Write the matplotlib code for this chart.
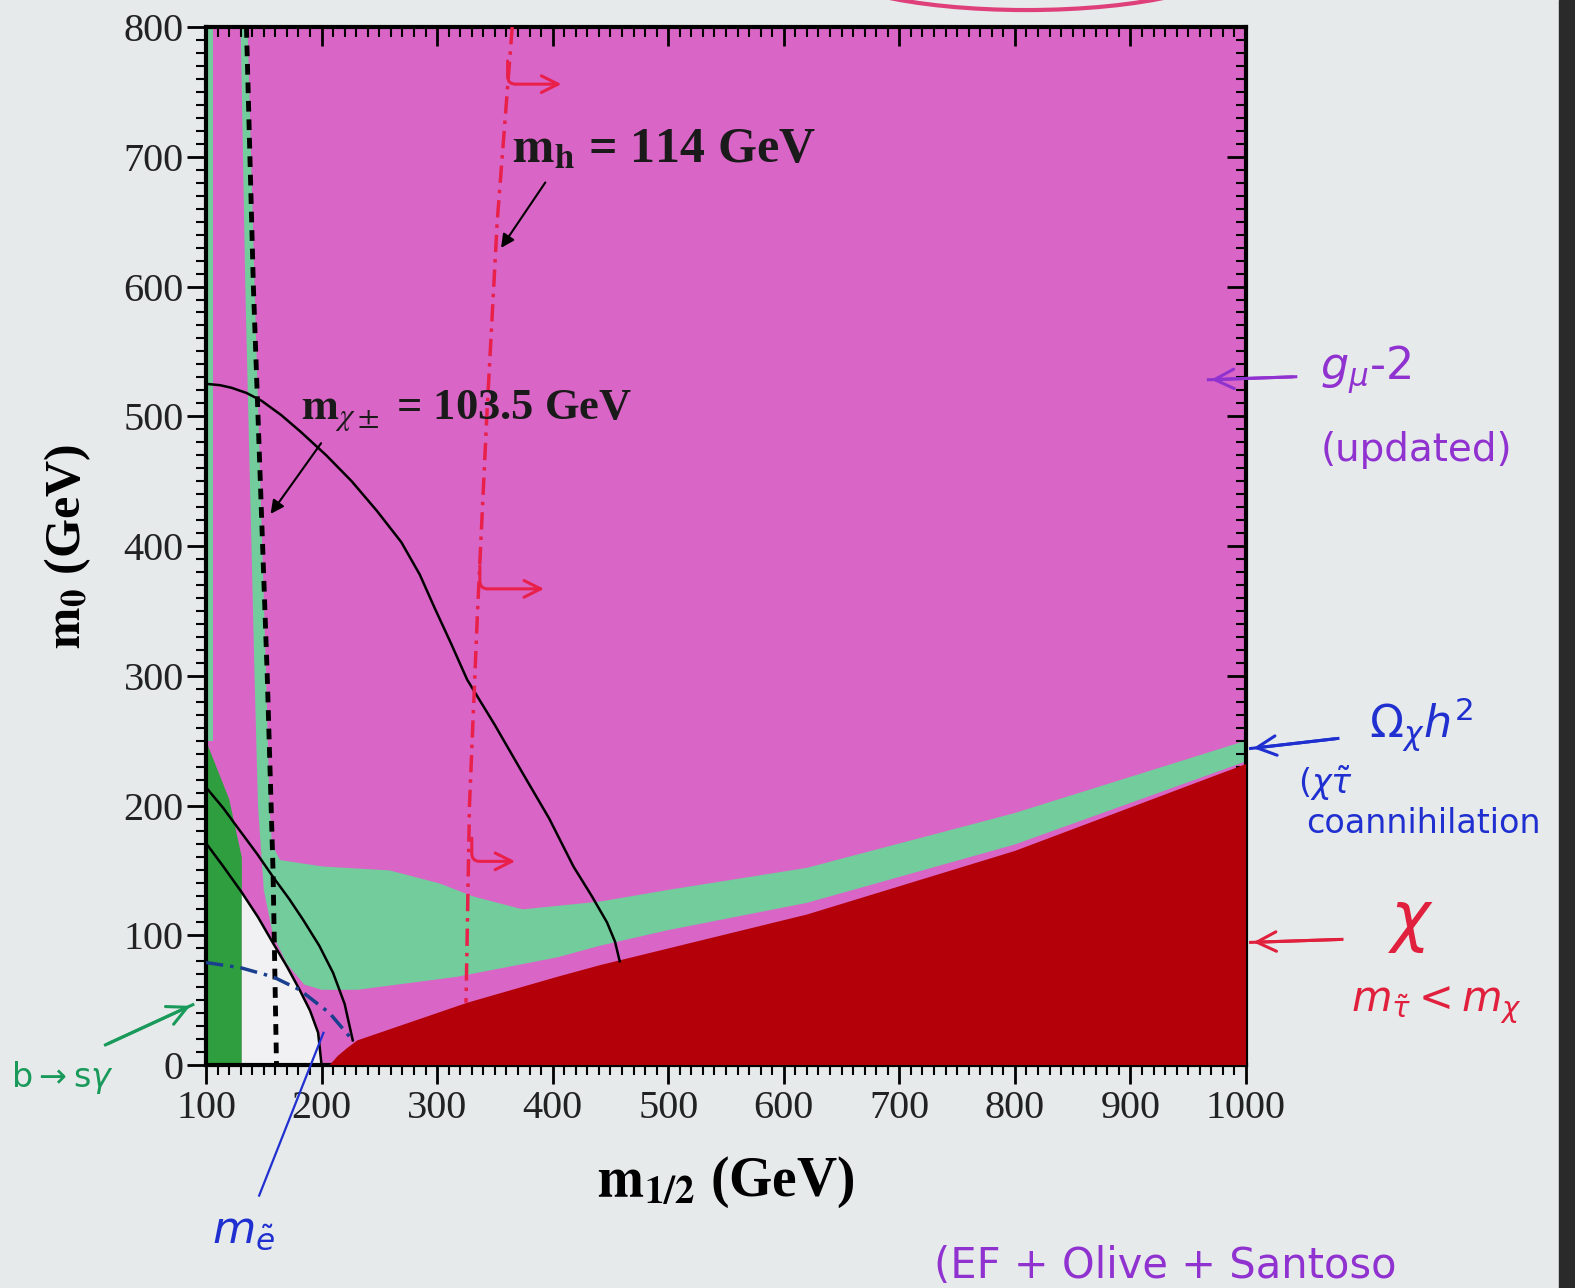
import matplotlib.pyplot as plt
from matplotlib.patches import Ellipse, Rectangle
from matplotlib.ticker import MultipleLocator

plt.rcParams['mathtext.fontset'] = 'stix'

# CMSSM (m_1/2, m_0) plane, values in GeV
# b -> s gamma excluded strip
bsg_x = [100, 131, 131, 120, 100]
bsg_y = [0, 0, 160, 205, 250]

# thin relic-density sliver along the left edge
edge_x = [100, 106, 106, 100]
edge_y = [250, 250, 800, 800]

# relic density (chi-stau coannihilation) region outline
relic_x = [130, 134, 138, 142, 145, 150, 158, 170, 185, 200, 231, 317, 404, 441, 500, 620, 800, 1000,
           1000, 799, 620, 500, 441, 374, 331, 302, 259, 201, 164, 157, 155, 152, 147, 142, 136]
relic_y = [800, 600, 450, 300, 200, 135, 100, 78, 62, 58, 58, 68, 83, 92, 104, 125, 170, 234,
           250, 194, 152, 135, 126, 120, 130, 140, 150, 153, 158, 170, 200, 300, 450, 600, 800]

# charged LSP (m_stau < m_chi)
stau_x = [207, 214, 222, 231, 326, 404, 441, 620, 800, 1000, 1000]
stau_y = [0, 7, 13, 19, 48, 68, 77, 116, 165, 232, 0]

# contours
inner_x = [100, 115, 131, 145, 158, 170, 181, 190, 197, 200]
inner_y = [171, 153, 133, 114, 94, 76, 58, 42, 25, 0]
outer_x = [100, 115, 129, 144, 158, 172, 184, 198, 210, 220, 227]
outer_y = [214, 198, 181, 163, 145, 128, 112, 92, 71, 47, 19]
big_x = [100, 112, 122, 135, 148, 165, 182, 204, 226, 248, 269, 285, 298, 312, 326,
         350, 374, 397, 418, 434, 447, 454, 458]
big_y = [525, 524, 522, 518, 512, 501, 488, 470, 450, 427, 403, 378, 352, 325, 297,
         262, 225, 190, 153, 130, 110, 95, 80]
cha_x = [135, 141, 147, 153, 158, 161]
cha_y = [800, 600, 450, 300, 150, 0]
mh_x = [365, 352, 343, 335, 328, 325]
mh_y = [800, 650, 500, 350, 200, 48]
sel_x = [100, 130, 158, 181, 207, 227]
sel_y = [79, 75, 68, 58, 40, 19]

# arrows off the m_h contour (allowed side)
hook_y = [764, 375, 165]
hook_x0 = [361, 337, 330]
hook_x1 = [410, 395, 370]

x_ticks = list(range(100, 1001, 100))
y_ticks = list(range(0, 801, 100))

magenta = '#d966c6'
teal = '#72cc9c'
dkgreen = '#2e9e3e'
dkred = '#b40008'

fig = plt.figure(figsize=(15.75, 12.88), dpi=100)
fig.patch.set_facecolor('#e6eaeb')
ax = fig.add_axes([0.1308, 0.1731, 0.6603, 0.8059])
ax.set_facecolor(magenta)

ax.fill(relic_x, relic_y, color=teal, lw=0, zorder=1)
ax.fill(edge_x, edge_y, color=teal, lw=0, zorder=1)
ax.fill(bsg_x, bsg_y, color=dkgreen, lw=0, zorder=2)
white_x = [131] + [x for x in inner_x if x >= 131]
white_y = [0] + [y for x, y in zip(inner_x, inner_y) if x >= 131]
ax.fill(white_x, white_y, color='#f1f1f3', lw=0, zorder=2)
ax.fill(stau_x, stau_y, color=dkred, lw=0, zorder=3)

ax.plot(inner_x, inner_y, color='black', lw=1.8, zorder=4)
ax.plot(outer_x, outer_y, color='black', lw=1.8, zorder=4)
ax.plot(big_x, big_y, color='black', lw=1.8, zorder=4)
ax.plot(cha_x, cha_y, color='black', lw=3.5, ls=(0, (2.2, 1.6)), zorder=5)
ax.plot(mh_x, mh_y, color='#e8204a', lw=2.5, ls=(0, (5, 2, 1, 2)), zorder=5)
ax.plot(sel_x, sel_y, color='#1a3f8f', lw=2.5, ls=(0, (5, 2, 1, 2)), zorder=5)

for y, x0, x1 in zip(hook_y, hook_x0, hook_x1):
    ax.annotate('', xy=(x1, y - 8), xytext=(x0, y + 12),
                arrowprops=dict(arrowstyle='->', color='#e8204a', lw=2.2,
                                mutation_scale=30, connectionstyle='angle,angleA=-90,angleB=0,rad=8'),
                zorder=6)

serif = 'Liberation Serif'

ax.text(365, 696, r'$\mathbf{m_h}$ = 114 GeV', fontsize=36, fontweight='bold',
        family=serif, color='#1a1a1a', va='baseline', zorder=7)
ax.annotate('', xy=(354, 628), xytext=(395, 682),
            arrowprops=dict(arrowstyle='-|>', color='black', lw=1.5, mutation_scale=20), zorder=7)
ax.text(182, 498, r'$\mathbf{m}_{\chi\pm}$ = 103.5 GeV', fontsize=32, fontweight='bold',
        family=serif, color='#1a1a1a', va='baseline', zorder=7)
ax.annotate('', xy=(154.5, 423), xytext=(201, 481),
            arrowprops=dict(arrowstyle='-|>', color='black', lw=1.5, mutation_scale=20), zorder=7)

ax.set_xlim(100, 1000)
ax.set_ylim(0, 800)
ax.set_xticks(x_ticks)
ax.set_yticks(y_ticks)
ax.xaxis.set_minor_locator(MultipleLocator(10))
ax.yaxis.set_minor_locator(MultipleLocator(10))
ax.tick_params(which='both', top=True, right=True)
ax.tick_params(axis='x', which='major', direction='out', length=14, width=2, pad=4, labelsize=29)
ax.tick_params(axis='y', which='major', direction='out', length=14, width=2, pad=2, labelsize=29)
ax.tick_params(which='minor', direction='out', length=7, width=1.5)
for lab in ax.get_xticklabels() + ax.get_yticklabels():
    lab.set_family(serif)
    lab.set_color('#222222')
for side in ['top', 'right', 'bottom', 'left']:
    ax.spines[side].set_linewidth(3)
# top/right ticks point inward (same downward/leftward direction as the others)
for t in ax.xaxis.get_major_ticks() + ax.xaxis.get_minor_ticks():
    t.tick2line.set_marker(3)
for t in ax.yaxis.get_major_ticks() + ax.yaxis.get_minor_ticks():
    t.tick2line.set_marker(0)

ax.set_xlabel(r'$\mathbf{m_{1/2}}$ (GeV)', fontsize=40, fontweight='bold', family=serif, labelpad=20)
ax.set_ylabel(r'$\mathbf{m_0}$ (GeV)', fontsize=36, fontweight='bold', family=serif, labelpad=22)


def fx(px):
    return px / 1568


def fy(py):
    return 1 - py / 1282


hand = 'DejaVu Sans'
purple = '#9032d0'
blue = '#2030d0'
red = '#e0203c'
green = '#1a9a5a'

fig.text(fx(1360), fy(368), r'$g_\mu$-2', fontsize=32, color=purple, family=hand,
         ha='center', va='center', math_fontfamily='dejavusans')
fig.text(fx(1410), fy(448), '(updated)', fontsize=28, color=purple, family=hand,
         ha='center', va='center')
fig.text(fx(1415), fy(722), r'$\Omega_\chi h^2$', fontsize=32, color=blue,
         ha='center', va='center', math_fontfamily='dejavusans')
fig.text(fx(1292), fy(780), r'($\chi\tilde{\tau}$', fontsize=24, color=blue, family=hand,
         ha='left', va='center', math_fontfamily='dejavusans')
fig.text(fx(1300), fy(820), 'coannihilation', fontsize=24, color=blue, family=hand,
         ha='left', va='center')
fig.text(fx(1405), fy(918), r'$\chi$', fontsize=48, color=red,
         ha='center', va='center', math_fontfamily='dejavusans')
fig.text(fx(1430), fy(1000), r'$m_{\tilde{\tau}} < m_\chi$', fontsize=30, color=red,
         ha='center', va='center', math_fontfamily='dejavusans')
fig.text(fx(62), fy(1072), r'b$\rightarrow$s$\gamma$', fontsize=24, color=green, family=hand,
         ha='center', va='center', math_fontfamily='dejavusans')
fig.text(fx(242), fy(1225), r'$m_{\tilde{e}}$', fontsize=32, color=blue,
         ha='center', va='center', math_fontfamily='dejavusans')
fig.text(fx(930), fy(1272), '(EF + Olive + Santoso', fontsize=30, color=purple, family=hand,
         ha='left', va='baseline')

arrows = [((1290, 375), (1203, 378), purple),
          ((1332, 735), (1245, 745), blue),
          ((1336, 935), (1245, 938), red),
          ((105, 1040), (192, 1000), green)]
for (x0, y0), (x1, y1), c in arrows:
    fig.add_artist(plt.Line2D([fx(x0), fx(x1)], [fy(y0), fy(y1)], color=c, lw=2.2))
    ax.annotate('', xy=(fx(x1), fy(y1)), xytext=(fx(x0), fy(y0)), xycoords='figure fraction',
                textcoords='figure fraction', annotation_clip=False,
                arrowprops=dict(arrowstyle='->', color=c, lw=2.2, mutation_scale=35))
fig.add_artist(plt.Line2D([fx(258), fx(322)], [fy(1190), fy(1028)], color=blue, lw=1.6))

# circled note at the top edge and dark page border at the right
fig.add_artist(Ellipse((fx(1022), fy(-40)), 420 / 1568, 100 / 1282, fill=False,
                       ec='#e0407a', lw=3, transform=fig.transFigure))
fig.add_artist(Rectangle((0.9898, 0), 0.0102, 1, color='#2a2a2a', transform=fig.transFigure))

fig.savefig('out.png', dpi=100, facecolor=fig.get_facecolor())
